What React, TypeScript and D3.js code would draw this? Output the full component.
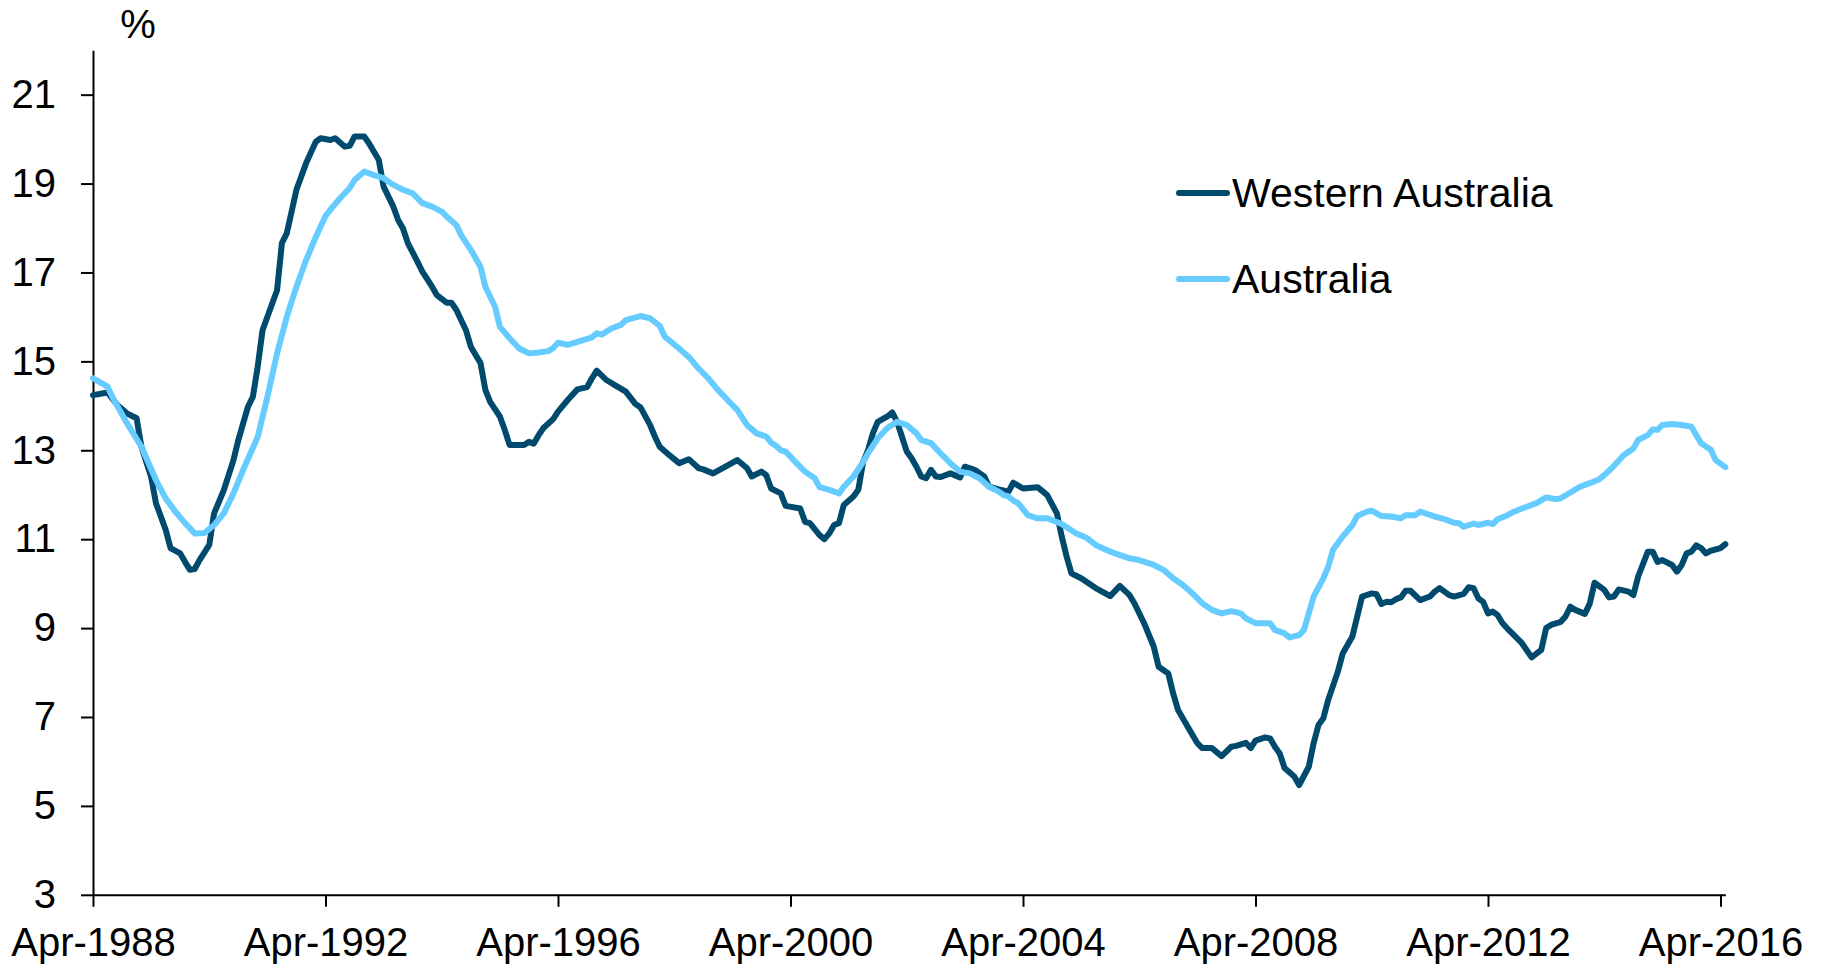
import React, { useEffect, useRef } from 'react';
import * as d3 from 'd3';

// --- Data (months counted from Apr-1988, values in %) ---
const waMonths = [0, 3, 5, 7, 9, 10, 12, 13, 15, 16, 18, 19, 20, 21, 22, 24, 25, 27, 29, 30, 32, 33, 34, 35, 37, 38, 39, 40, 42, 44, 46, 47, 49, 50, 52, 53, 54, 56, 57, 59, 60, 62, 63, 64, 65, 67, 68, 70, 71, 73, 74, 75, 77, 78, 80, 81, 82, 84, 85, 86, 89, 90, 91, 92, 93, 95, 96, 98, 100, 102, 103, 104, 106, 108, 110, 112, 113, 115, 116, 117, 119, 121, 123, 125, 126, 128, 130, 133, 135, 136, 138, 139, 140, 142, 143, 146, 147, 148, 150, 151, 152, 153, 154, 155, 157, 158, 159, 160, 161, 162, 164, 165, 166, 167, 168, 169, 170, 171, 172, 173, 174, 175, 177, 179, 180, 182, 184, 185, 187, 189, 190, 192, 195, 197, 199, 200, 201, 202, 204, 207, 209, 210, 212, 214, 215, 217, 219, 220, 222, 223, 224, 226, 228, 229, 231, 233, 235, 236, 238, 239, 240, 242, 243, 244, 245, 246, 248, 249, 251, 252, 253, 254, 255, 257, 258, 260, 261, 262, 264, 265, 266, 267, 268, 269, 270, 271, 272, 274, 276, 277, 278, 280, 281, 283, 284, 285, 286, 287, 288, 289, 290, 291, 292, 293, 295, 296, 297, 299, 300, 301, 303, 304, 305, 306, 308, 309, 310, 312, 313, 314, 315, 317, 318, 319, 321, 322, 323, 324, 326, 327, 328, 329, 330, 331, 332, 333, 334, 336, 337];
const waValues = [14.24, 14.3, 14.02, 13.83, 13.72, 13.08, 12.4, 11.81, 11.21, 10.8, 10.68, 10.49, 10.31, 10.33, 10.53, 10.87, 11.58, 12.1, 12.78, 13.23, 13.98, 14.2, 14.88, 15.7, 16.3, 16.6, 17.66, 17.88, 18.86, 19.46, 19.94, 20.02, 19.98, 20.02, 19.83, 19.85, 20.06, 20.06, 19.9, 19.53, 18.93, 18.48, 18.18, 17.99, 17.66, 17.24, 17.02, 16.68, 16.49, 16.32, 16.32, 16.16, 15.7, 15.33, 14.96, 14.36, 14.09, 13.76, 13.46, 13.12, 13.12, 13.19, 13.15, 13.34, 13.5, 13.7, 13.87, 14.13, 14.37, 14.42, 14.62, 14.79, 14.58, 14.45, 14.32, 14.04, 13.97, 13.57, 13.31, 13.08, 12.89, 12.71, 12.8, 12.6, 12.57, 12.48, 12.6, 12.78, 12.6, 12.41, 12.52, 12.44, 12.14, 12.03, 11.75, 11.69, 11.39, 11.36, 11.09, 11.0, 11.13, 11.32, 11.36, 11.77, 11.96, 12.11, 12.74, 13.0, 13.38, 13.64, 13.76, 13.85, 13.64, 13.31, 12.97, 12.82, 12.63, 12.41, 12.37, 12.56, 12.41, 12.4, 12.48, 12.39, 12.63, 12.56, 12.41, 12.18, 12.12, 12.07, 12.27, 12.14, 12.17, 11.99, 11.58, 11.06, 10.61, 10.23, 10.12, 9.9, 9.78, 9.72, 9.95, 9.74, 9.56, 9.11, 8.58, 8.13, 7.98, 7.53, 7.16, 6.78, 6.41, 6.3, 6.3, 6.12, 6.33, 6.35, 6.42, 6.3, 6.47, 6.54, 6.52, 6.33, 6.18, 5.85, 5.66, 5.47, 5.88, 6.41, 6.82, 6.97, 7.38, 8.02, 8.43, 8.81, 9.26, 9.71, 9.78, 9.76, 9.54, 9.59, 9.58, 9.65, 9.69, 9.84, 9.84, 9.63, 9.71, 9.82, 9.9, 9.74, 9.71, 9.77, 9.92, 9.9, 9.67, 9.59, 9.33, 9.37, 9.29, 9.11, 8.99, 8.88, 8.66, 8.5, 8.34, 8.51, 9.0, 9.07, 9.14, 9.26, 9.48, 9.41, 9.32, 9.55, 10.02, 9.86, 9.69, 9.71, 9.87, 9.82, 9.74, 10.16, 10.72, 10.72, 10.49, 10.53, 10.42, 10.27, 10.42, 10.68, 10.72, 10.86, 10.8, 10.68, 10.74, 10.8, 10.89];

const auMonths = [0, 3, 4, 7, 10, 13, 15, 17, 19, 21, 23, 25, 27, 29, 31, 34, 36, 38, 40, 42, 44, 46, 48, 49, 51, 53, 54, 56, 58, 60, 62, 64, 66, 68, 70, 72, 73, 75, 76, 78, 80, 81, 83, 84, 86, 88, 90, 92, 94, 95, 96, 98, 101, 103, 104, 105, 107, 109, 110, 113, 115, 117, 118, 121, 123, 125, 127, 129, 131, 133, 135, 137, 139, 140, 141, 142, 143, 145, 147, 149, 150, 152, 154, 155, 157, 159, 160, 162, 164, 166, 168, 170, 171, 173, 175, 177, 179, 181, 183, 185, 187, 188, 189, 190, 191, 193, 195, 197, 200, 203, 205, 207, 209, 211, 214, 216, 219, 221, 223, 225, 227, 229, 231, 233, 235, 237, 238, 240, 243, 244, 246, 247, 249, 250, 251, 252, 254, 255, 256, 258, 260, 261, 263, 264, 266, 268, 270, 271, 273, 274, 277, 279, 281, 282, 283, 285, 286, 288, 289, 290, 292, 293, 295, 296, 298, 300, 302, 303, 305, 307, 309, 311, 312, 314, 316, 318, 319, 321, 322, 323, 324, 326, 328, 330, 331, 332, 334, 335, 337];
const auValues = [14.62, 14.43, 14.2, 13.61, 13.08, 12.33, 11.92, 11.62, 11.36, 11.13, 11.14, 11.32, 11.58, 12.03, 12.56, 13.3, 14.2, 15.18, 16.0, 16.68, 17.28, 17.8, 18.27, 18.41, 18.67, 18.9, 19.08, 19.27, 19.19, 19.12, 18.97, 18.86, 18.78, 18.56, 18.48, 18.37, 18.26, 18.07, 17.84, 17.51, 17.13, 16.68, 16.23, 15.78, 15.52, 15.29, 15.18, 15.2, 15.23, 15.3, 15.42, 15.37, 15.47, 15.54, 15.63, 15.6, 15.74, 15.82, 15.93, 16.02, 15.97, 15.8, 15.56, 15.29, 15.1, 14.84, 14.62, 14.36, 14.13, 13.91, 13.57, 13.38, 13.31, 13.17, 13.1, 13.0, 12.97, 12.74, 12.52, 12.37, 12.17, 12.11, 12.03, 12.18, 12.41, 12.74, 12.93, 13.27, 13.5, 13.64, 13.57, 13.38, 13.23, 13.16, 12.93, 12.71, 12.52, 12.48, 12.37, 12.18, 12.07, 11.99, 11.96, 11.87, 11.81, 11.54, 11.47, 11.47, 11.34, 11.13, 11.04, 10.87, 10.77, 10.68, 10.57, 10.53, 10.42, 10.31, 10.12, 9.97, 9.78, 9.56, 9.41, 9.33, 9.38, 9.33, 9.22, 9.11, 9.11, 8.96, 8.88, 8.79, 8.84, 8.96, 9.33, 9.71, 10.12, 10.38, 10.76, 11.06, 11.32, 11.52, 11.62, 11.64, 11.52, 11.51, 11.47, 11.54, 11.54, 11.62, 11.51, 11.45, 11.37, 11.36, 11.28, 11.35, 11.32, 11.37, 11.34, 11.45, 11.54, 11.6, 11.69, 11.73, 11.81, 11.94, 11.9, 11.92, 12.05, 12.18, 12.26, 12.35, 12.44, 12.65, 12.89, 13.04, 13.23, 13.34, 13.47, 13.46, 13.57, 13.59, 13.57, 13.53, 13.34, 13.16, 13.01, 12.78, 12.62];

const xTickMonths = [0, 48, 96, 144, 192, 240, 288, 336];
const xTickLabels = ['Apr-1988', 'Apr-1992', 'Apr-1996', 'Apr-2000', 'Apr-2004', 'Apr-2008', 'Apr-2012', 'Apr-2016'];
const yTicks = [3, 5, 7, 9, 11, 13, 15, 17, 19, 21];
const seriesNames = ['Western Australia', 'Australia'];
const seriesColors = ['#004A6E', '#66CCFF'];

const W = 1823;
const H = 967;
const FONT = '"Liberation Sans", Arial, sans-serif';

function App() {
  const svgRef = useRef(null);

  useEffect(() => {
    const svg = d3.select(svgRef.current);
    svg.selectAll('*').remove();

    const x = d3.scaleLinear().domain([0, 337]).range([93, 93 + (337 * 1627.5) / 336]);
    const y = d3.scaleLinear().domain([3, 22]).range([894.8, 50.2]);

    // --- Axes ---
    const yAxis = d3.axisLeft(y).tickValues(yTicks).tickSize(12).tickSizeOuter(0).tickPadding(25).tickFormat(d3.format('d'));
    const gy = svg.append('g').attr('transform', `translate(${x(0)},0)`).call(yAxis);
    gy.selectAll('text').attr('font-size', 40).attr('font-family', FONT).attr('fill', '#000');

    const xAxis = d3.axisBottom(x).tickValues(xTickMonths).tickSize(12).tickSizeOuter(0).tickPadding(21)
      .tickFormat((d, i) => xTickLabels[i]);
    const gx = svg.append('g').attr('transform', `translate(0,${y(3)})`).call(xAxis);
    gx.selectAll('text').attr('font-size', 40).attr('font-family', FONT).attr('fill', '#000');

    [gx, gy].forEach(g => {
      g.select('.domain').attr('stroke', '#000').attr('stroke-width', 2);
      g.selectAll('.tick line').attr('stroke', '#000').attr('stroke-width', 2);
    });

    svg.append('text').attr('x', 138).attr('y', 38).attr('text-anchor', 'middle')
      .attr('font-size', 40).attr('font-family', FONT).text('%');

    // --- Lines ---
    const line = d3.line().x(d => x(d[0])).y(d => y(d[1])).curve(d3.curveLinear);
    const series = [
      d3.zip(waMonths, waValues),
      d3.zip(auMonths, auValues),
    ];
    series.forEach((data, i) => {
      svg.append('path').datum(data).attr('d', line).attr('fill', 'none')
        .attr('stroke', seriesColors[i]).attr('stroke-width', 6)
        .attr('stroke-linejoin', 'round').attr('stroke-linecap', 'round');
    });

    // --- Legend ---
    const legend = svg.append('g');
    seriesNames.forEach((name, i) => {
      const ly = 193 + i * 86;
      legend.append('line').attr('x1', 1179).attr('x2', 1227).attr('y1', ly).attr('y2', ly)
        .attr('stroke', seriesColors[i]).attr('stroke-width', 6).attr('stroke-linecap', 'round');
      legend.append('text').attr('x', 1232).attr('y', ly + 14).attr('font-size', 41)
        .attr('font-family', FONT).attr('fill', '#000').text(name);
    });
  }, []);

  return (
    <svg ref={svgRef} width={W} height={H} style={{ position: 'absolute', left: 0, top: 0, background: '#fff' }} />
  );
}

export default App;
